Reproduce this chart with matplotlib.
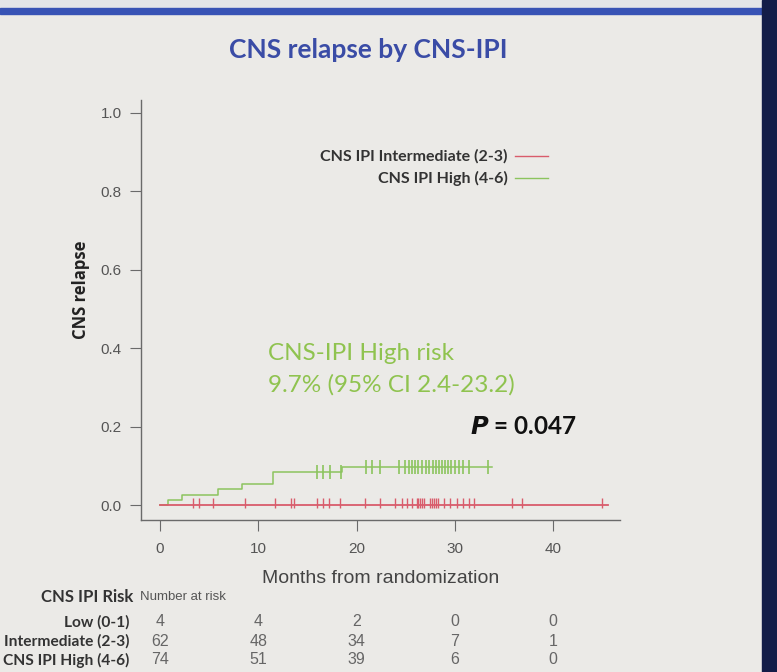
import matplotlib.pyplot as plt
import matplotlib.transforms as mtransforms
from matplotlib.patches import Rectangle
import numpy as np

W, H = 777, 672

# Kaplan-Meier style cumulative incidence
high_times = [0, 0.8, 2.2, 5.9, 8.3, 11.5, 18.5, 33.8]
high_vals = [0, 0.0135, 0.027, 0.041, 0.055, 0.084, 0.097, 0.097]
high_censor = [16.0, 16.6, 17.3, 18.4, 21.0, 21.6, 22.4, 24.3, 24.9, 25.3, 25.6,
               25.9, 26.3, 26.7, 27.1, 27.4, 27.8, 28.1, 28.4, 28.7, 29.0, 29.3,
               29.6, 30.0, 30.4, 30.8, 31.4, 33.4]

inter_times = [0, 45.6]
inter_vals = [0, 0]
inter_censor = [3.4, 4.0, 5.4, 8.6, 11.7, 13.3, 13.6, 16.0, 16.6, 17.2, 18.3, 20.9,
                22.4, 23.9, 24.6, 25.1, 25.6, 26.1, 26.3, 26.5, 26.7, 26.9, 27.5,
                27.7, 27.9, 28.1, 28.3, 28.9, 29.5, 30.2, 30.8, 31.4, 31.9, 35.8,
                36.8, 45.0]

risk_groups = ['Low (0-1)', 'Intermediate (2-3)', 'CNS IPI High (4-6)']
risk_months = [0, 10, 20, 30, 40]
risk_low = [4, 4, 2, 0, 0]
risk_inter = [62, 48, 34, 7, 1]
risk_high = [74, 51, 39, 6, 0]

red = '#d95c6c'
green = '#8cc45e'
ann_green = '#8fc34f'
navy = '#3a4ca6'
grey = '#555555'
narrow = ['Liberation Sans Narrow', 'Liberation Sans', 'DejaVu Sans']
cal = ['Lato', 'DejaVu Sans']


def fx(px):
    return px / W


def fy(py):
    return 1 - py / H


def step_value(times, vals, t):
    idx = np.searchsorted(times, t, side='right') - 1
    return np.array(vals)[idx]


fig = plt.figure(figsize=(W / 100, H / 100), dpi=100, facecolor='#ebeae7')

# slide decorations
fig.add_artist(Rectangle((0, fy(8)), 1, 8 / H, transform=fig.transFigure,
                         color='#e3e5e8', zorder=0))
fig.add_artist(Rectangle((0, fy(14)), fx(764), 6 / H, transform=fig.transFigure,
                         color='#3753b5', zorder=1))
fig.add_artist(Rectangle((fx(762), 0), 1 - fx(762), 1, transform=fig.transFigure,
                         color='#131d48', zorder=2))

ax = fig.add_axes([fx(141), fy(520), fx(620) - fx(141), (520 - 100) / H])
ax.set_facecolor('none')

ax.step(high_times, high_vals, where='post', color=green, lw=1.1)
ax.plot(high_censor, step_value(high_times, high_vals, high_censor), '|',
        color=green, ms=10, mew=1.2)
ax.step(inter_times, inter_vals, where='post', color=red, lw=1.3)
ax.plot(inter_censor, step_value(inter_times, inter_vals, inter_censor) + 0.006, '|',
        color=red, ms=7, mew=1.0)

ax.set_xlim(-1.93, 46.8)
ax.set_ylim(-0.038, 1.033)
ax.spines['top'].set_visible(False)
ax.spines['right'].set_visible(False)
for s in ('left', 'bottom'):
    ax.spines[s].set_color('#6a6a6a')
    ax.spines[s].set_linewidth(1.0)
ax.set_xticks(risk_months)
ax.set_yticks([0, 0.2, 0.4, 0.6, 0.8, 1.0])
ax.set_yticklabels(['0.0', '0.2', '0.4', '0.6', '0.8', '1.0'])
ax.tick_params(axis='both', colors='#6a6a6a', labelcolor=grey, length=8,
               labelsize=11)
ax.tick_params(axis='x', pad=8)
ax.tick_params(axis='y', pad=6)
for lab in ax.get_xticklabels() + ax.get_yticklabels():
    lab.set_family(narrow)

ax.set_xlabel('Months from randomization', fontsize=14, color='#444444',
              family=narrow, labelpad=10)
fig.text(fx(81), fy(290), 'CNS relapse', rotation=90, ha='center', va='center',
         fontsize=12, fontweight='bold', color='#222222',
         family=['Open Sans', 'DejaVu Sans'])

# legend (drawn like the R legend: text then line)
leg_labels = ['CNS IPI Intermediate (2-3)', 'CNS IPI High (4-6)']
leg_colors = [red, green]
for i, (lab, col) in enumerate(zip(leg_labels, leg_colors)):
    yy = fy(156 + 22 * i)
    fig.text(fx(508), yy, lab, ha='right', va='center', fontsize=11.5,
             fontweight='bold', color='#333333', family=cal)
    fig.add_artist(plt.Line2D([fx(515), fx(548)], [yy, yy], color=col, lw=1.0,
                              transform=fig.transFigure))

fig.text(fx(368), fy(50), 'CNS relapse by CNS-IPI', ha='center', va='center',
         fontsize=19, fontweight='bold', color=navy, family=cal)

fig.text(fx(268), fy(353), 'CNS-IPI High risk', ha='left', va='center',
         fontsize=17.5, color=ann_green, family=cal)
fig.text(fx(268), fy(385), '9.7% (95% CI 2.4-23.2)', ha='left', va='center',
         fontsize=17.5, color=ann_green, family=cal)
fig.text(fx(470), fy(427), r'$\boldsymbol{P}$ = 0.047', ha='left', va='center',
         fontsize=17.5, fontweight='bold', color='#111111', family=cal)

# number at risk table
fig.text(fx(133), fy(597), 'CNS IPI Risk', ha='right', va='center', fontsize=12,
         fontweight='bold', color='#333333', family=cal)
fig.text(fx(140), fy(597), 'Number at risk', ha='left', va='center', fontsize=9.5,
         color='#555555', family=narrow)
blend = mtransforms.blended_transform_factory(ax.transData, fig.transFigure)
for row, (grp, counts) in enumerate(zip(risk_groups, [risk_low, risk_inter, risk_high])):
    yy = fy(622 + 19 * row)
    fig.text(fx(129), yy, grp, ha='right', va='center', fontsize=11.2,
             fontweight='bold', color='#333333', family=cal)
    for m, c in zip(risk_months, counts):
        ax.text(m, yy, str(c), transform=blend, ha='center', va='center',
                fontsize=11.5, color='#666666', clip_on=False, family=narrow)

fig.savefig('out.png', dpi=100, facecolor=fig.get_facecolor())
